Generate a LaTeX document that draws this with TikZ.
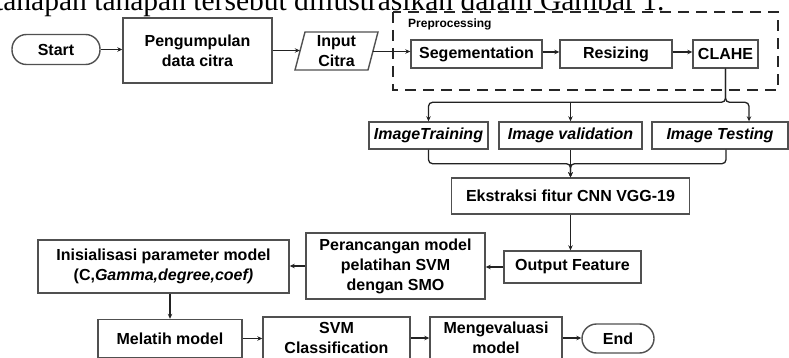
\documentclass[tikz,border=0pt]{standalone}
\usepackage{fontspec}
\setmainfont{Liberation Serif}
\newfontfamily\arial{Liberation Sans}
\usetikzlibrary{arrows.meta,calc}
\definecolor{boxgray}{HTML}{505050}
\definecolor{linegray}{HTML}{222222}

\begin{document}
\begin{tikzpicture}[x=1pt,y=-1pt,
  lbl/.style={font=\arial\bfseries\fontsize{16}{20}\selectfont, text=black, align=center, inner sep=0pt},
  box/.style={lbl, draw=boxgray, line width=1.4pt, fill=white},
  pill/.style={box, rounded corners=14.5pt},
  itbox/.style={box, font=\arial\bfseries\itshape\fontsize{16}{20}\selectfont},
  flow/.style={line width=1.3pt, draw=linegray, -{Stealth[length=5pt,width=4.5pt]}},
  frame/.style={draw=black!85, line width=1.5pt, dash pattern=on 11pt off 7pt},
]
\useasboundingbox (0,0) rectangle (789,358);
\clip (0,0) rectangle (789,358);

% line of body text above the figure
\node[anchor=base west, inner sep=0pt, font=\fontsize{29.5}{30}\selectfont] (caption) at (-5,11)
  {tahapan tahapan tersebut diilustrasikan dalam Gambar 1.};

% first row
\node[pill, minimum width=88pt, minimum height=30pt] (start) at (56,49.5) {Start};
\node[box, minimum width=149pt, minimum height=65pt] (peng) at (197.5,50.5) {Pengumpulan\\data citra};
\draw[draw=boxgray, line width=1.4pt, fill=white] (295,70) -- (305,32) -- (378,32) -- (368,70) -- cycle;
\node[lbl, minimum width=73pt, minimum height=38pt] (input) at (336.5,51.5) {Input\\Citra};

% preprocessing group
\draw[frame] (393,12) rectangle (778,90);
\node[anchor=west, inner sep=0pt, font=\arial\bfseries\fontsize{12}{14}\selectfont, text=black] (prep) at (408,24) {Preprocessing};
\node[box, minimum width=131pt, minimum height=28pt] (seg) at (476.5,54) {Segementation};
\node[box, minimum width=112pt, minimum height=28pt] (res) at (616,54) {Resizing};
\node[box, minimum width=65pt, minimum height=28pt] (clahe) at (725.5,54) {CLAHE};

% data split
\node[itbox, minimum width=119pt, minimum height=27pt] (itrain) at (428.5,135.5) {ImageTraining};
\node[itbox, minimum width=143pt, minimum height=27pt] (ival) at (570.5,135.5) {Image validation};
\node[itbox, minimum width=136pt, minimum height=27pt] (itest) at (720,135.5) {Image Testing};

\node[box, minimum width=238pt, minimum height=36pt] (ekstr) at (570.5,196) {Ekstraksi fitur CNN VGG-19};
\node[box, minimum width=137pt, minimum height=32pt] (outf) at (572.5,267) {Output Feature};
\node[box, minimum width=179pt, minimum height=66pt] (peran) at (395.5,266) {Perancangan model\\pelatihan SVM\\dengan SMO};
\node[box, minimum width=251pt, minimum height=53pt] (inis) at (163.5,266.5) {Inisialisasi parameter model\\(C,\textit{Gamma,degree,coef)}};

% last row
\node[box, minimum width=144pt, minimum height=38pt] (melatih) at (170,338.5) {Melatih model};
\node[box, minimum width=147pt, minimum height=42pt] (svm) at (336.5,338) {SVM\\Classification};
\node[box, minimum width=132pt, minimum height=42pt] (meng) at (496,338) {Mengevaluasi\\model};
\node[pill, minimum width=72pt, minimum height=29pt] (end) at (618,338.5) {End};

% connectors
\draw[flow] (start.east) -- (start.east -| peng.west);
\draw[flow] (peng.east) -- (peng.east -| input.west);
\draw[flow] (input.east) -- (input.east -| seg.west);
\draw[flow] (seg.east) ++(0,-2) -- ($(res.west)+(0,-2)$);
\draw[flow] (res.east) ++(0,-2) -- ($(clahe.west)+(0,-2)$);

\draw[flow, rounded corners=4pt] (clahe.south) |- ($(itrain.north)+(0,-19)$) -- (itrain.north);
\draw[flow, rounded corners=4pt] (clahe.south) |- ($(itest.north)+(29,-19)$) -- ($(itest.north)+(29,0)$);
\draw[flow] ($(ival.north)+(0,-19)$) -- (ival.north);

\draw[flow, rounded corners=4pt] (itrain.south) |- ($(ival.south)+(0,14)$) -- (ekstr.north);
\draw[flow, rounded corners=4pt] ($(itest.south)+(6,0)$) |- ($(ival.south)+(0,14)$) -- (ekstr.north);
\draw[flow] (ival.south) -- (ekstr.north);

\draw[flow] (ekstr.south) -- (ekstr.south |- outf.north);
\draw[flow] (outf.west) -- (outf.west -| peran.east);
\draw[flow] (peran.west) -- (peran.west -| inis.east);
\draw[flow] (inis.south -| melatih.north) -- (melatih.north);
\draw[flow] (melatih.east) -- (melatih.east -| svm.west);
\draw[flow] (svm.east) -- (svm.east -| meng.west);
\draw[flow] (meng.east) -- (meng.east -| end.west);
\end{tikzpicture}
\end{document}
